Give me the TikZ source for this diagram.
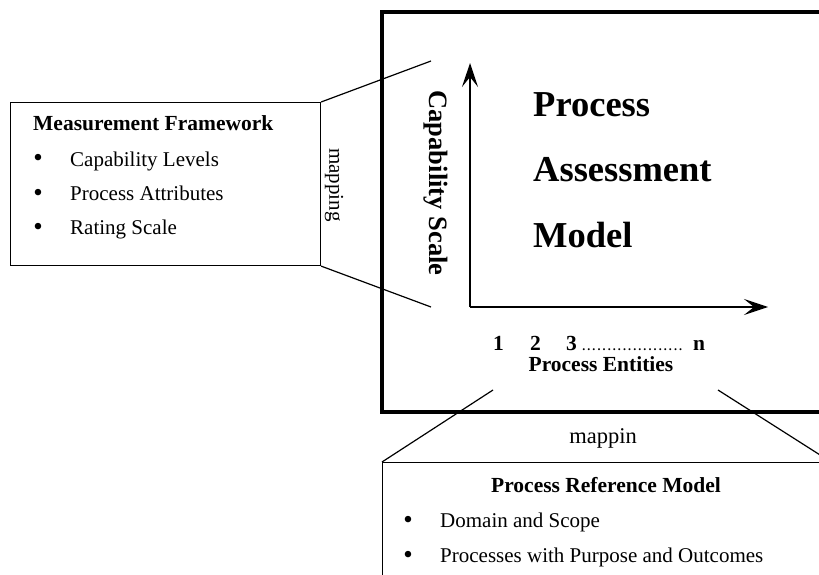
\documentclass[tikz,border=0pt]{standalone}
\usepackage{fontspec}
\setmainfont{Liberation Serif}
\usetikzlibrary{arrows.meta}
\begin{document}
\begin{tikzpicture}[x=1pt,y=-1pt,
  box/.style={draw, line width=1.1pt, inner sep=0pt, anchor=north west},
  bigbox/.style={draw, line width=4pt, inner sep=0pt, anchor=north west},
  link/.style={line width=1.2pt},
  axis/.style={line width=1.6pt, -{Stealth[length=24pt,width=16pt,inset=10pt]}},
  txt/.style={inner sep=0pt, anchor=base west},
  ctxt/.style={inner sep=0pt, anchor=base},
  bul/.style={inner sep=0pt, anchor=base, font=\fontsize{27}{30}\selectfont},
  f21/.style={font=\fontsize{21}{25}\selectfont},
  b21/.style={font=\fontsize{21.5}{25}\selectfont\bfseries},
  b36/.style={font=\fontsize{36.5}{40}\selectfont\bfseries}]
\useasboundingbox (0,0) rectangle (819,575);
\clip (0,0) rectangle (819,575);

% boxes
\node[bigbox, minimum width=480pt, minimum height=400pt] (pam) at (380,10) {};
\node[box, minimum width=310pt, minimum height=163pt] (mf) at (10,102) {};
\node[box, minimum width=448pt, minimum height=200pt] (prm) at (382,462) {};

% connectors
\coordinate (mfT) at (431,61);
\coordinate (mfB) at (431,307);
\coordinate (prmL) at (493,390);
\coordinate (prmR) at (718,390);
\draw[link] (mf.north east) -- (mfT);
\draw[link] (mf.south east) -- (mfB);
\draw[link] (prm.north west) -- (prmL);
\draw[link] (prm.north east) -- (prmR);

% axes
\coordinate (orig) at (470,307);
\coordinate (ytip) at (470,63);
\coordinate (xtip) at (768,307);
\draw[axis] (orig) -- (ytip);
\draw[axis] (orig) -- (xtip);

% left box text
\node[txt, b21] (mft) at (33,131) {Measurement Framework};
\node[bul] (mfb1) at (38,167) {\textbullet};
\node[txt, f21] (mfi1) at (70,166) {Capability Levels};
\node[bul] (mfb2) at (38,201) {\textbullet};
\node[txt, f21] (mfi2) at (70,200) {Process Attributes};
\node[bul] (mfb3) at (38,235) {\textbullet};
\node[txt, f21] (mfi3) at (70,234) {Rating Scale};

% mapping labels
\node[inner sep=0pt, rotate=-90, f21] (map1) at (334,185) {mapping};
\node[ctxt, font=\fontsize{22.5}{26}\selectfont] (map2) at (603,443) {mappin};

% capability scale
\node[inner sep=0pt, rotate=-90, font=\fontsize{26.5}{30}\selectfont\bfseries] (cap) at (436,183) {Capability Scale};

% model title
\node[txt, b36] (pa1) at (533,117) {Process};
\node[txt, b36] (pa2) at (533,182) {Assessment};
\node[txt, b36] (pa3) at (533,247) {Model};

% process entities
\node[txt, b21] (n1) at (493,350) {1};
\node[txt, b21] (n2) at (530,350) {2};
\node[txt, b21] (n3) at (566,350) {3};
\node[txt, font=\fontsize{12}{14}\selectfont\bfseries] (ndots) at (581,350) {\makebox[102pt]{\leaders\hbox to 5.1pt{\hss.\hss}\hfill}};
\node[txt, b21] (nn) at (693,350) {n};
\node[ctxt, b21] (pe) at (601,371) {Process Entities};

% bottom box text
\node[ctxt, b21] (prmt) at (606,492) {Process Reference Model};
\node[bul] (prmb1) at (408,528) {\textbullet};
\node[txt, f21] (prmi1) at (440,527) {Domain and Scope};
\node[bul] (prmb2) at (408,563) {\textbullet};
\node[txt, f21] (prmi2) at (440,562) {Processes with Purpose and Outcomes};
\end{tikzpicture}
\end{document}
